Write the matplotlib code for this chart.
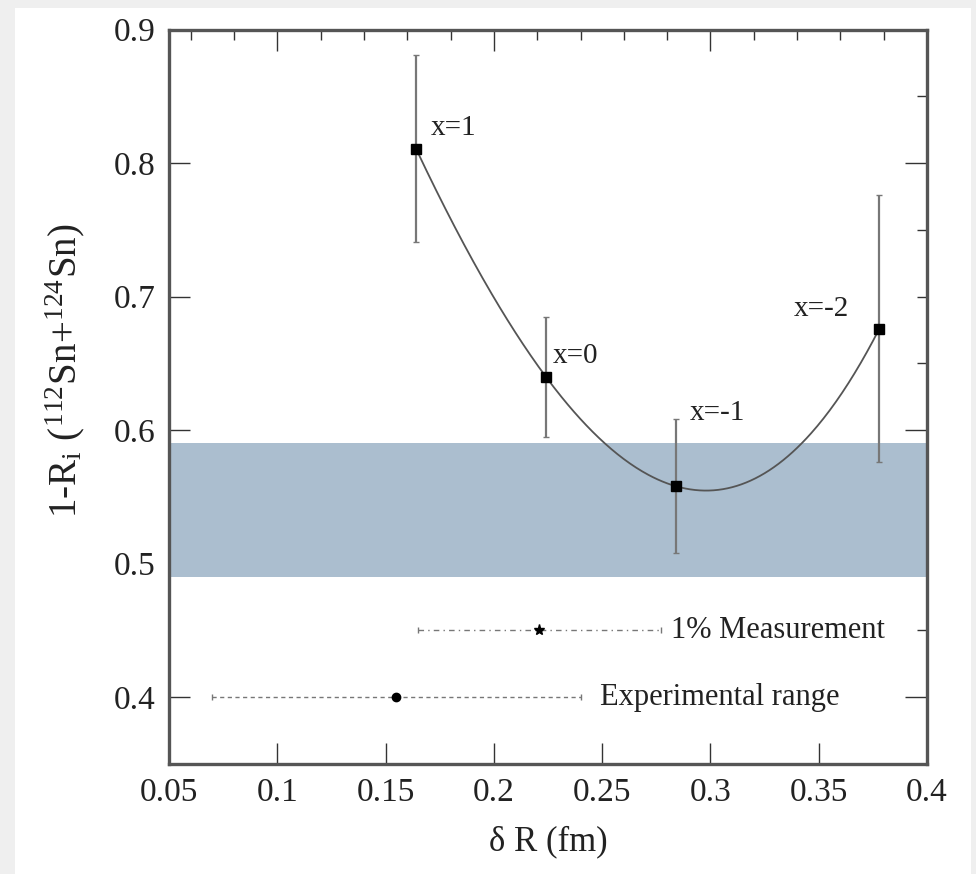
import numpy as np
import matplotlib
matplotlib.use("Agg")
import matplotlib.pyplot as plt
from matplotlib.ticker import MultipleLocator
from matplotlib.patches import Rectangle

# data
labels = ["x=1", "x=0", "x=-1", "x=-2"]
dR = [0.164, 0.224, 0.284, 0.378]
ri = [0.811, 0.640, 0.558, 0.676]
ri_err = [0.070, 0.045, 0.050, 0.100]

band = [0.49, 0.59]

meas_x, meas_y, meas_err = 0.221, 0.45, 0.056
exp_x, exp_y, exp_err = 0.155, 0.40, 0.085

xticks = [0.05, 0.1, 0.15, 0.2, 0.25, 0.3, 0.35, 0.4]
xticklabels = ["0.05", "0.1", "0.15", "0.2", "0.25", "0.3", "0.35", "0.4"]
yticks = [0.4, 0.5, 0.6, 0.7, 0.8, 0.9]
yticklabels = ["0.4", "0.5", "0.6", "0.7", "0.8", "0.9"]

plt.rcParams["font.family"] = ["Liberation Serif", "DejaVu Serif"]
plt.rcParams["mathtext.fontset"] = "stix"

fig = plt.figure(figsize=(9.76, 8.74), dpi=100, facecolor="#efefef")
# white page inside the grey screenshot frame
fig.patches.append(Rectangle((15 / 976, 0), 956 / 976, 866 / 874,
                             transform=fig.transFigure, facecolor="white",
                             edgecolor="none", zorder=-10))

ax = fig.add_axes([0.1732, 0.1261, 0.7766, 0.8399])
ax.set_xlim(0.05, 0.4)
ax.set_ylim(0.35, 0.9)

# top / right axes carry their own tick spacing, kept behind the band
axt = ax.twiny()
axr = ax.twinx()
for a in (axt, axr):
    a.set_zorder(ax.get_zorder() - 1)
    a.patch.set_visible(False)
    for s in a.spines.values():
        s.set_visible(False)
ax.patch.set_visible(False)

axt.set_xlim(ax.get_xlim())
axt.xaxis.set_major_locator(MultipleLocator(0.1))
axt.xaxis.set_minor_locator(MultipleLocator(0.02))
axt.tick_params(axis="x", which="both", direction="in", labeltop=False,
                colors="#333333", width=1)
axt.tick_params(axis="x", which="major", length=15)
axt.tick_params(axis="x", which="minor", length=7)
axt.set_yticks([])

axr.set_ylim(ax.get_ylim())
axr.yaxis.set_major_locator(MultipleLocator(0.2))
axr.yaxis.set_minor_locator(MultipleLocator(0.05))
axr.tick_params(axis="y", which="both", direction="in", labelright=False,
                colors="#333333", width=1)
axr.tick_params(axis="y", which="major", length=16)
axr.tick_params(axis="y", which="minor", length=7)
axr.set_xticks([])

# shaded band (covers the ticks underneath)
ax.axhspan(band[0], band[1], color="#abbecf", lw=0, zorder=2)

# smooth curve through the four points
coef = np.polyfit(dR, ri, 3)
xs = np.linspace(dR[0], dR[-1], 300)
ax.plot(xs, np.polyval(coef, xs), color="#555555", lw=1.3, zorder=3)

ax.errorbar(dR, ri, yerr=ri_err, fmt="none", ecolor="#777777", elinewidth=1.6,
            capsize=2, capthick=1, zorder=3)
ax.plot(dR, ri, "s", color="black", ms=7, zorder=4)

offsets = [(11, 15), (5, 15), (10, 53), (-62, 14)]
for x, y, t, off in zip(dR, ri, labels, offsets):
    ax.annotate(t, (x, y), xytext=off, textcoords="offset points",
                fontsize=21, color="#222222", va="center", ha="left")

# 1% measurement and experimental range markers
eb1 = ax.errorbar([meas_x], [meas_y], xerr=[meas_err], fmt="*", color="black",
                  ms=8, ecolor="#777777", elinewidth=1, capsize=2, zorder=4)
eb1[2][0].set_linestyle((0, (4, 3, 1, 3)))
ax.text(0.282, meas_y, "1% Measurement", fontsize=22, color="#222222",
        va="center", ha="left")

eb2 = ax.errorbar([exp_x], [exp_y], xerr=[exp_err], fmt="o", color="black",
                  ms=6, ecolor="#777777", elinewidth=1, capsize=2, zorder=4)
eb2[2][0].set_linestyle((0, (3, 2.5)))
ax.text(0.249, exp_y, "Experimental range", fontsize=22, color="#222222",
        va="center", ha="left")

ax.set_xticks(xticks)
ax.set_xticklabels(xticklabels)
ax.set_yticks(yticks)
ax.set_yticklabels(yticklabels)
ax.tick_params(axis="both", which="major", direction="in", length=15, width=1,
               colors="#333333", labelsize=24, labelcolor="#222222")
ax.tick_params(axis="y", pad=10)
ax.tick_params(axis="x", pad=10)
ax.tick_params(right=False, top=False)

for s in ax.spines.values():
    s.set_linewidth(2.4)
    s.set_color("#555555")
    s.set_zorder(5)

ax.set_xlabel("δ R (fm)", fontsize=25, color="#222222", labelpad=12)
ax.set_ylabel(r"1-R$_\mathregular{i}$ ($^\mathregular{112}$Sn+$^\mathregular{124}$Sn)",
              fontsize=28, color="#222222")
ax.yaxis.set_label_coords(-0.108, 0.535)

fig.savefig("out.png", dpi=100, facecolor=fig.get_facecolor())
